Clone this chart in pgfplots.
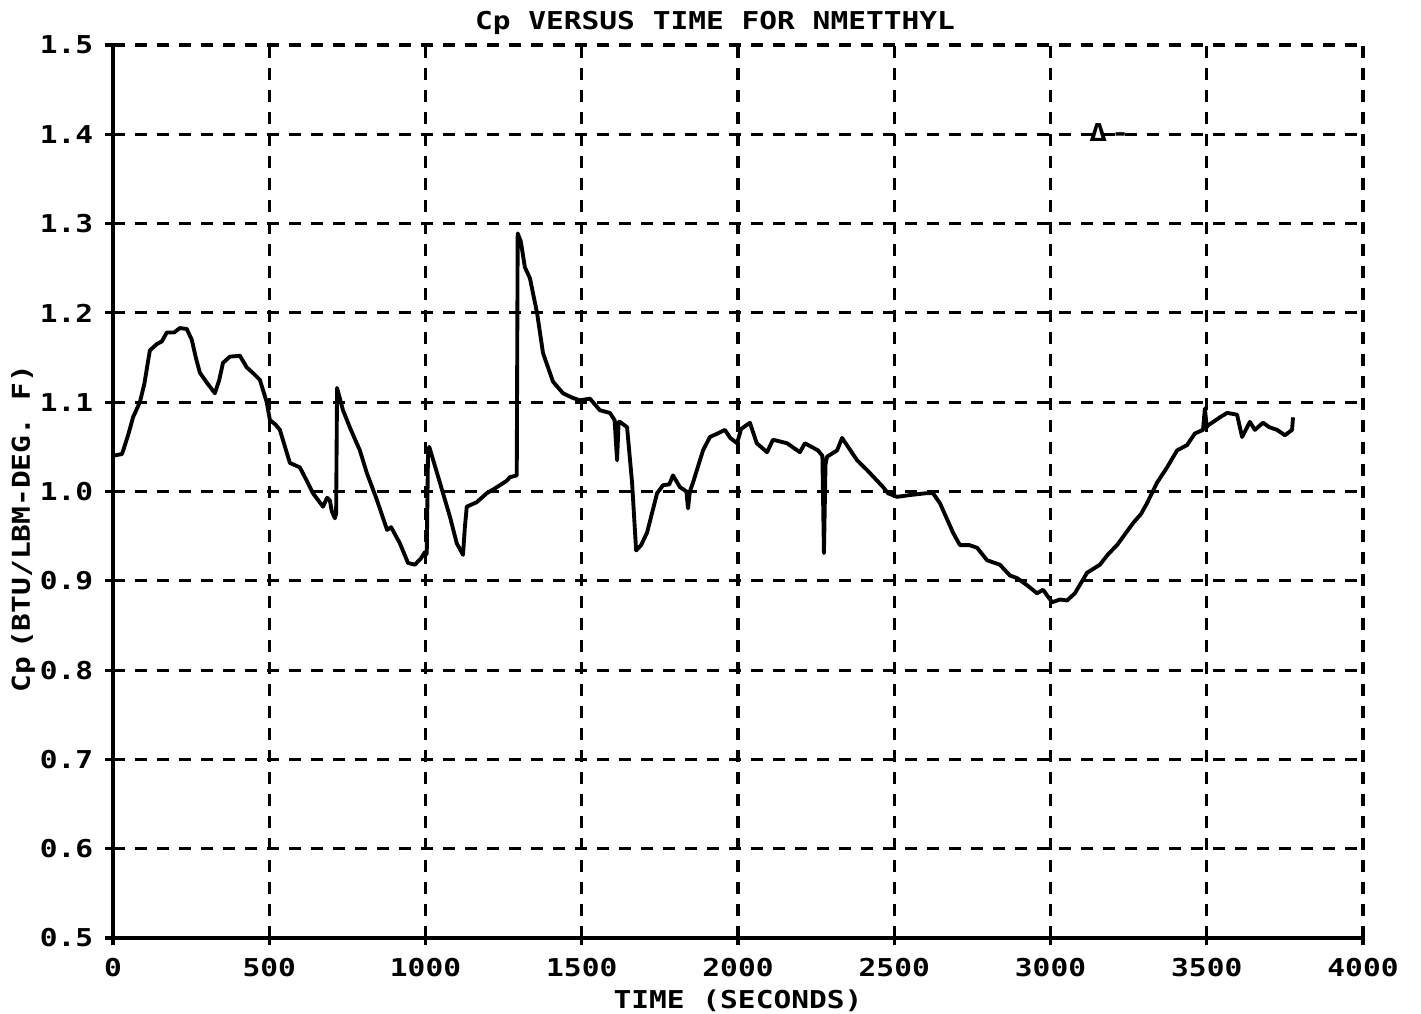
\documentclass[border=0pt]{standalone}
\usepackage{fontspec}
\setmainfont[FakeStretch=1.2,BoldFont={DejaVu Sans Mono Bold}]{DejaVu Sans Mono}
\usepackage{pgfplots}
\pgfplotsset{compat=1.18}
\begin{document}
\begin{tikzpicture}
\begin{axis}[name=ax,
  scale only axis, width=125mm, height=89.3mm,
  xmin=0, xmax=4000, ymin=0.5, ymax=1.5,
  xtick={0,500,...,4000}, ytick={0.5,0.6,...,1.5},
  axis lines=left, axis line style={-, line width=1pt},
  grid=major, major grid style={black, line width=0.9pt, dash pattern=on 1.2mm off 1mm},
  tick align=center, major tick length=1.5mm, tick style={black, line width=0.9pt},
  font=\bfseries\fontsize{7}{8}\selectfont,
  /pgf/number format/assume math mode=true,
  xticklabel style={/pgf/number format/.cd, fixed, 1000 sep={}},
  yticklabel style={/pgf/number format/.cd, fixed, fixed zerofill, precision=1},
  title={Cp VERSUS TIME FOR NMETTHYL},
  title style={yshift=-6.5pt, xshift=-2.3mm},
  xlabel={TIME (SECONDS)},
  ylabel={Cp\,\,(BTU/LBM-DEG. F)},
  ylabel style={yshift=-5.5pt, xshift=-3.7mm},
  xlabel style={yshift=3pt},
  clip=false,
]
\addplot[black, line width=1.1pt, line join=round] coordinates {
(0,1.040) (29,1.042) (50,1.065) (64,1.083) (86,1.100) (100,1.120) (118,1.158)
(140,1.165) (156,1.168) (172,1.178) (195,1.178) (214,1.183) (236,1.182) (252,1.170)
(265,1.150) (278,1.133) (300,1.122) (326,1.110) (340,1.125) (352,1.144) (374,1.151)
(406,1.152) (428,1.139) (450,1.132) (470,1.125) (492,1.100) (502,1.080) (520,1.075)
(534,1.069) (566,1.032) (598,1.027) (620,1.012) (640,0.998) (672,0.983) (685,0.993)
(694,0.990) (700,0.978) (710,0.970) (714,0.975) (717,1.116) (736,1.091) (760,1.070)
(790,1.046) (812,1.021) (845,0.990) (877,0.957) (890,0.960) (918,0.942) (944,0.920)
(966,0.918) (985,0.925) (998,0.932) (1004,0.930) (1008,1.043) (1012,1.050) (1046,1.010)
(1078,0.972) (1100,0.942) (1120,0.929) (1126,0.960) (1132,0.983) (1164,0.988) (1196,0.998)
(1220,1.003) (1238,1.007) (1260,1.012) (1270,1.016) (1292,1.018) (1295,1.289) (1305,1.280)
(1318,1.251) (1334,1.239) (1357,1.200) (1376,1.155) (1408,1.123) (1440,1.110) (1470,1.105)
(1494,1.102) (1526,1.104) (1558,1.091) (1590,1.088) (1605,1.080) (1613,1.035) (1618,1.078)
(1622,1.078) (1645,1.072) (1661,1.010) (1674,0.934) (1690,0.940) (1709,0.954) (1741,0.998)
(1760,1.007) (1780,1.008) (1792,1.018) (1814,1.005) (1835,1.000) (1840,0.981) (1846,1.000)
(1856,1.010) (1888,1.046) (1910,1.061) (1935,1.065) (1958,1.069) (1975,1.060) (1997,1.054)
(2010,1.070) (2038,1.077) (2060,1.054) (2093,1.044) (2112,1.058) (2157,1.054) (2198,1.044)
(2214,1.054) (2256,1.046) (2270,1.040) (2275,0.931) (2280,1.030) (2285,1.039) (2317,1.046)
(2333,1.060) (2381,1.035) (2413,1.024) (2464,1.005) (2480,0.998) (2509,0.994) (2550,0.996)
(2600,0.998) (2624,0.998) (2646,0.987) (2688,0.954) (2710,0.940) (2740,0.940) (2765,0.937)
(2797,0.923) (2838,0.918) (2870,0.906) (2893,0.903) (2925,0.895) (2957,0.886) (2976,0.890)
(3005,0.876) (3030,0.879) (3053,0.878) (3078,0.886) (3117,0.909) (3158,0.918) (3185,0.930)
(3213,0.940) (3240,0.953) (3265,0.965) (3290,0.975) (3309,0.987) (3341,1.010) (3373,1.027)
(3405,1.046) (3437,1.052) (3462,1.065) (3488,1.069) (3494,1.093) (3500,1.072) (3504,1.074)
(3542,1.083) (3565,1.088) (3597,1.086) (3613,1.061) (3638,1.078) (3654,1.069) (3680,1.077)
(3700,1.072) (3725,1.069) (3750,1.063) (3773,1.069) (3776,1.083)
};
\node[font=\bfseries\fontsize{7}{8}\selectfont, anchor=west] at (axis cs:3085,1.402) {Δ\,-};
\end{axis}
\pgfresetboundingbox
\path[use as bounding box] ([xshift=-11.3mm,yshift=-7.6mm]ax.south west) rectangle ([xshift=5.8mm,yshift=4.5mm]ax.north east);
\end{tikzpicture}
\end{document}
